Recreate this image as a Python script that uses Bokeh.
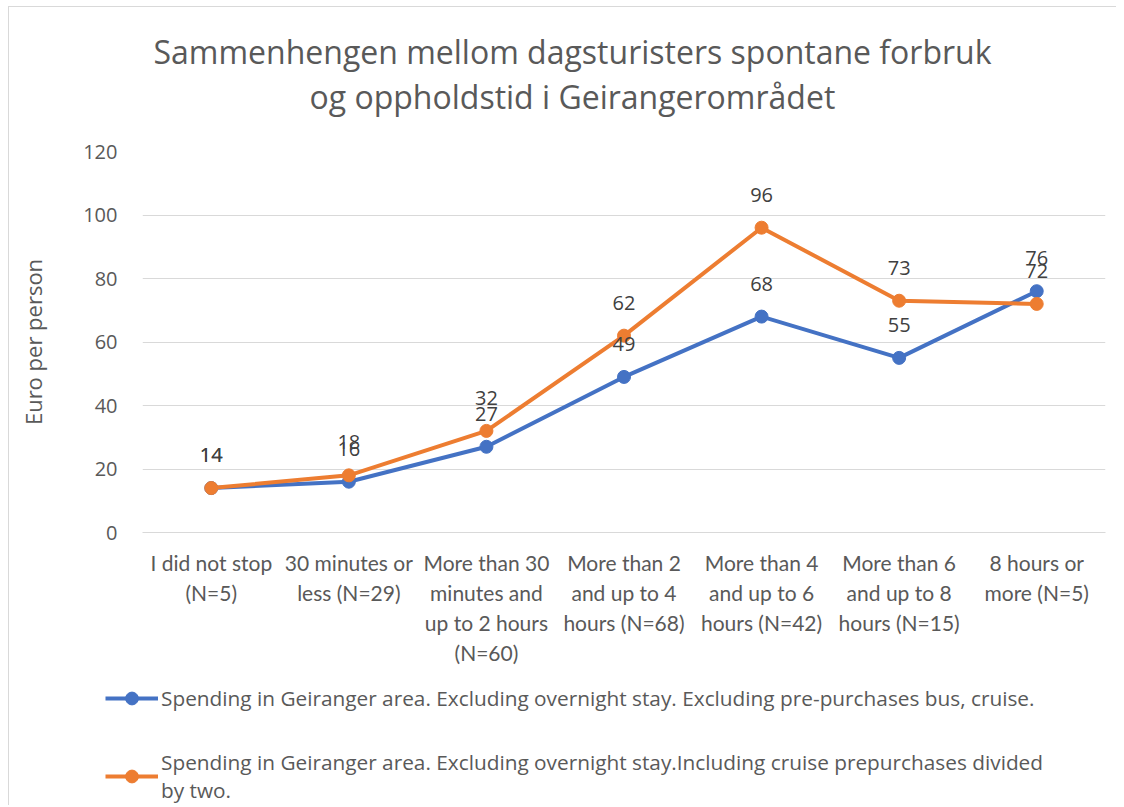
from bokeh.plotting import figure
from bokeh.models import FactorRange, Range1d, Title, Legend, LegendItem, ColumnDataSource
from bokeh.layouts import column, row
from bokeh.embed import file_html
from bokeh.resources import INLINE
from bokeh.core.properties import value

title_lines = ["Sammenhengen mellom dagsturisters spontane forbruk",
               "og oppholdstid i Geirangerområdet"]
categories = ["I did not stop\n(N=5)",
              "30 minutes or\nless (N=29)",
              "More than 30\nminutes and\nup to 2 hours\n(N=60)",
              "More than 2\nand up to 4\nhours (N=68)",
              "More than 4\nand up to 6\nhours (N=42)",
              "More than 6\nand up to 8\nhours (N=15)",
              "8 hours or\nmore (N=5)"]
excl_values = [14, 16, 27, 49, 68, 55, 76]
incl_values = [14, 18, 32, 62, 96, 73, 72]
series_names = ["Spending in Geiranger area. Excluding overnight stay. Excluding pre-purchases bus, cruise.",
                "Spending in Geiranger area. Excluding overnight stay.Including cruise prepurchases divided\nby two."]
y_ticks = [0, 20, 40, 60, 80, 100, 120]
y_label = "Euro per person"

FONT = "Open Sans"
TXT = "#595959"
BLUE = "#4472C4"
ORANGE = "#ED7D31"
COLORS = [BLUE, ORANGE]

p = figure(x_range=FactorRange(*categories), y_range=Range1d(0, 120),
           width=1116, height=680, output_backend="svg", toolbar_location=None,
           title=None, min_border_left=142, min_border_right=11,
           min_border_top=151, min_border_bottom=148)
p.outline_line_color = None
p.background_fill_color = "white"
p.border_fill_color = None

t2 = Title(text=title_lines[1], align="left", text_font_size="32px", text_font=FONT,
           text_color=TXT, text_font_style="normal", standoff=68, offset=167)
p.add_layout(t2, "above")
t1 = Title(text=title_lines[0], align="left", text_font_size="32px", text_font=FONT,
           text_color=TXT, text_font_style="normal", standoff=-68, offset=11)
p.add_layout(t1, "above")

p.xgrid.visible = False
p.ygrid.grid_line_color = "#d9d9d9"
p.ygrid.grid_line_width = 1

p.yaxis.ticker = y_ticks
p.yaxis.axis_line_color = None
p.yaxis.major_tick_line_color = None
p.yaxis.minor_tick_line_color = None
p.yaxis.major_label_text_font_size = "20px"
p.yaxis.major_label_text_font = FONT
p.yaxis.major_label_text_color = TXT
p.yaxis.major_label_standoff = 19
p.yaxis.axis_label = y_label
p.yaxis.axis_label_text_font_size = "22px"
p.yaxis.axis_label_text_font = FONT
p.yaxis.axis_label_text_font_style = "normal"
p.yaxis.axis_label_text_color = TXT
p.yaxis.axis_label_standoff = 32

p.xaxis.axis_line_color = "#d9d9d9"
p.xaxis.major_tick_line_color = None
p.xaxis.minor_tick_line_color = None
p.xaxis.major_label_text_font_size = "21px"
p.xaxis.major_label_text_font = "Lato"
p.xaxis.major_label_text_color = TXT
p.xaxis.major_label_standoff = 11

src = ColumnDataSource(dict(cat=categories, excl=excl_values, incl=incl_values,
                            excl_lbl=[str(v) for v in excl_values],
                            incl_lbl=[str(v) for v in incl_values]))

for col, color in zip(("excl", "incl"), COLORS):
    p.line("cat", col, source=src, line_width=4, line_color=color)
    p.scatter("cat", col, source=src, size=13, fill_color=color, line_color=color)

for col in ("excl", "incl"):
    p.text("cat", col, text=col + "_lbl", source=src, text_align="center", text_baseline="middle",
           y_offset=-33, text_font_size="20px", text_font=value(FONT), text_color="#404040")

# legend panel below the chart (proxy renderers hold no drawable points)
p2 = figure(width=1116, height=125, output_backend="svg", toolbar_location=None, title=None,
            x_axis_location=None, y_axis_location=None, min_border=0)
p2.grid.visible = False
p2.outline_line_color = None
p2.background_fill_color = None
p2.border_fill_color = None
nan = float("nan")
items = []
for name, color in zip(series_names, COLORS):
    lr = p2.line(x=[nan], y=[nan], line_width=4, line_color=color)
    sr = p2.scatter(x=[nan], y=[nan], size=13, fill_color=color, line_color=color)
    items.append(LegendItem(label=name, renderers=[lr, sr]))

legend = Legend(items=items, location=(105, 1), orientation="vertical",
                glyph_width=53, glyph_height=32, label_standoff=3, spacing=34,
                padding=0, margin=0, border_line_color=None, background_fill_alpha=0,
                label_text_font_size="20.8px", label_text_color=TXT, label_text_font=FONT)
p2.add_layout(legend)

layout = column(p, row(p2), spacing=0)
layout.styles = {
    "background": "linear-gradient(#d9d9d9, #d9d9d9) 8px 6px / 1px 100% no-repeat, "
                  "linear-gradient(#d9d9d9, #d9d9d9) 8px 6px / 100% 1px no-repeat"
}
open("out.html", "w").write(file_html(layout, INLINE))
